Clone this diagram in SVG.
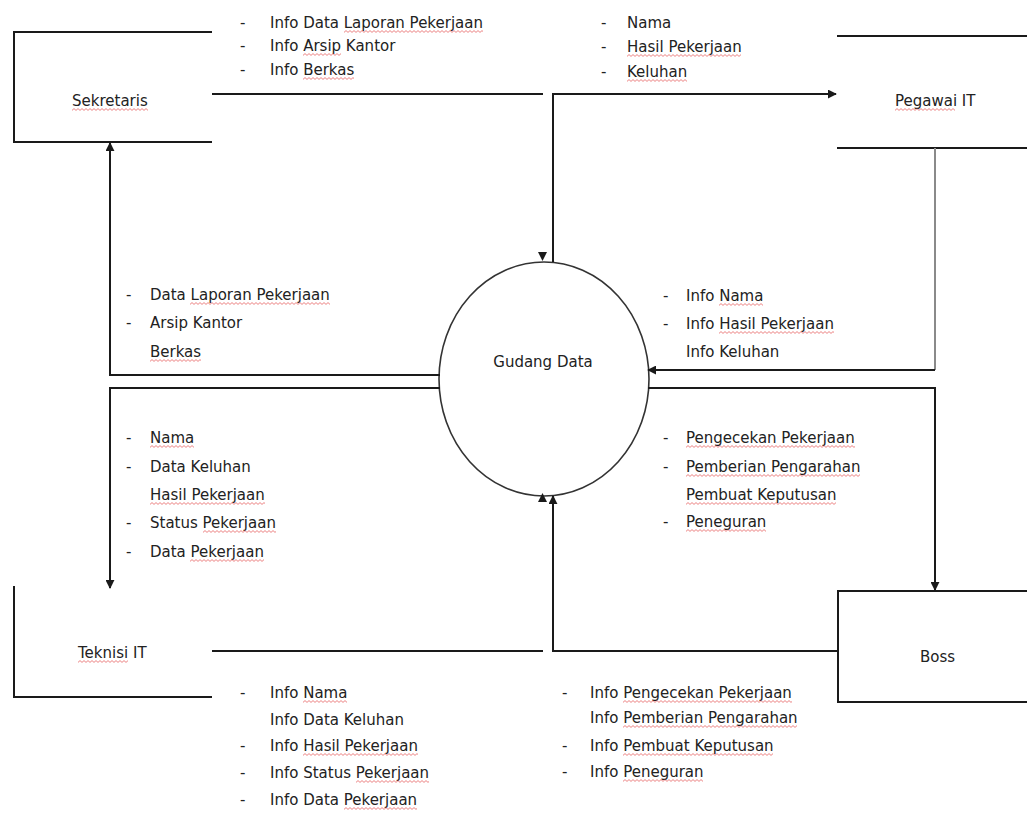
<svg xmlns="http://www.w3.org/2000/svg" width="1027" height="814" viewBox="0 0 1027 814">
  <style>
    .box { fill: none; stroke: #1a1a1a; stroke-width: 2; }
    .flow { fill: none; stroke: #1a1a1a; stroke-width: 2; }
    .gray { stroke: #8a8a8a; }
    .store { fill: #ffffff; stroke: #333333; stroke-width: 1.6; }
    .lbl { font-family: "DejaVu Sans", "Liberation Sans", sans-serif; font-size: 15px; fill: #222222; }
    .node { font-family: "DejaVu Sans", "Liberation Sans", sans-serif; font-size: 15px; fill: #222222; }
    .head { fill: #1a1a1a; }
    .sq { fill: url(#squiggle); height: 3px; }
  </style>
  <defs>
    <marker id="arrow" viewBox="0 0 10 10" refX="9" refY="5" markerWidth="9" markerHeight="9" markerUnits="userSpaceOnUse" orient="auto">
      <path d="M0,0 L10,5 L0,10 Z" class="head"/>
    </marker>
    <!-- spell-check style wavy underline -->
    <pattern id="squiggle" patternUnits="userSpaceOnUse" width="4" height="3">
      <path d="M0,2.4 L2,0.6 L4,2.4" fill="none" stroke="#e03a3a" stroke-width="0.8" stroke-opacity="0.8"/>
    </pattern>
  </defs>

  <rect width="1027" height="814" fill="#ffffff"/>

  <!-- external entities -->
  <g id="sekretaris">
    <path class="box" d="M212,32 H14 V142 H212"/>
    <text class="node" x="72" y="106">Sekretaris</text>
  </g>
  <g id="pegawai-it">
    <path class="box" d="M837,36 H1027 M837,148 H1027"/>
    <text class="node" x="895" y="106">Pegawai IT</text>
  </g>
  <g id="teknisi-it">
    <path class="box" d="M14,586 V697 H212"/>
    <text class="node" x="78" y="658">Teknisi IT</text>
  </g>
  <g id="boss">
    <path class="box" d="M1027,591 H838 V702 H1027"/>
    <text class="node" x="920" y="662">Boss</text>
  </g>

  <!-- data store -->
  <g id="gudang-data">
    <ellipse class="store" cx="544" cy="379" rx="105" ry="117"/>
    <text class="node" x="543" y="367" text-anchor="middle">Gudang Data</text>
  </g>

  <!-- data flows -->
  <g id="connectors">
    <path class="flow" d="M212,94 H543"/>
    <path class="head" d="M538,252 L547,252 L542.5,261 Z"/>
    <path class="flow" d="M553,262 V94 H836" marker-end="url(#arrow)"/>
    <path class="flow gray" d="M935,148 V370"/>
    <path class="flow" d="M935,370 H648" marker-end="url(#arrow)"/>
    <path class="flow" d="M648,388 H935 V590" marker-end="url(#arrow)"/>
    <path class="flow" d="M838,651 H553 V496" marker-end="url(#arrow)"/>
    <path class="flow" d="M212,651 H543"/>
    <path class="head" d="M538,502 L547,502 L542.5,493 Z"/>
    <path class="flow" d="M440,375 H110 V143" marker-end="url(#arrow)"/>
    <path class="flow" d="M440,388 H110 V588" marker-end="url(#arrow)"/>
  </g>

  <!-- flow labels -->
  <g id="label-sekretaris-out">
    <text class="lbl" x="240" y="28">-</text><text class="lbl" x="270" y="28">Info Data Laporan Pekerjaan</text>
    <text class="lbl" x="240" y="51">-</text><text class="lbl" x="270" y="51">Info Arsip Kantor</text>
    <text class="lbl" x="240" y="75">-</text><text class="lbl" x="270" y="75">Info Berkas</text>
  </g>
  <g id="label-pegawai-in">
    <text class="lbl" x="601" y="28">-</text><text class="lbl" x="627" y="28">Nama</text>
    <text class="lbl" x="601" y="52">-</text><text class="lbl" x="627" y="52">Hasil Pekerjaan</text>
    <text class="lbl" x="601" y="77">-</text><text class="lbl" x="627" y="77">Keluhan</text>
  </g>
  <g id="label-sekretaris-in">
    <text class="lbl" x="126" y="300">-</text><text class="lbl" x="150" y="300">Data Laporan Pekerjaan</text>
    <text class="lbl" x="126" y="328">-</text><text class="lbl" x="150" y="328">Arsip Kantor</text>
    <text class="lbl" x="150" y="357">Berkas</text>
  </g>
  <g id="label-pegawai-out">
    <text class="lbl" x="663" y="301">-</text><text class="lbl" x="686" y="301">Info Nama</text>
    <text class="lbl" x="663" y="329">-</text><text class="lbl" x="686" y="329">Info Hasil Pekerjaan</text>
    <text class="lbl" x="686" y="357">Info Keluhan</text>
  </g>
  <g id="label-teknisi-in">
    <text class="lbl" x="126" y="443">-</text><text class="lbl" x="150" y="443">Nama</text>
    <text class="lbl" x="126" y="472">-</text><text class="lbl" x="150" y="472">Data Keluhan</text>
    <text class="lbl" x="150" y="500">Hasil Pekerjaan</text>
    <text class="lbl" x="126" y="528">-</text><text class="lbl" x="150" y="528">Status Pekerjaan</text>
    <text class="lbl" x="126" y="557">-</text><text class="lbl" x="150" y="557">Data Pekerjaan</text>
  </g>
  <g id="label-boss-in">
    <text class="lbl" x="663" y="443">-</text><text class="lbl" x="686" y="443">Pengecekan Pekerjaan</text>
    <text class="lbl" x="663" y="472">-</text><text class="lbl" x="686" y="472">Pemberian Pengarahan</text>
    <text class="lbl" x="686" y="500">Pembuat Keputusan</text>
    <text class="lbl" x="663" y="527">-</text><text class="lbl" x="686" y="527">Peneguran</text>
  </g>
  <g id="label-teknisi-out">
    <text class="lbl" x="240" y="698">-</text><text class="lbl" x="270" y="698">Info Nama</text>
    <text class="lbl" x="270" y="725">Info Data Keluhan</text>
    <text class="lbl" x="240" y="751">-</text><text class="lbl" x="270" y="751">Info Hasil Pekerjaan</text>
    <text class="lbl" x="240" y="778">-</text><text class="lbl" x="270" y="778">Info Status Pekerjaan</text>
    <text class="lbl" x="240" y="805">-</text><text class="lbl" x="270" y="805">Info Data Pekerjaan</text>
  </g>
  <g id="label-boss-out">
    <text class="lbl" x="562" y="698">-</text><text class="lbl" x="590" y="698">Info Pengecekan Pekerjaan</text>
    <text class="lbl" x="590" y="723">Info Pemberian Pengarahan</text>
    <text class="lbl" x="562" y="751">-</text><text class="lbl" x="590" y="751">Info Pembuat Keputusan</text>
    <text class="lbl" x="562" y="777">-</text><text class="lbl" x="590" y="777">Info Peneguran</text>
  </g>

  <!-- wavy spell-check marks under words -->
  <g id="spelling-marks">
    <rect class="sq" transform="translate(72,108)" width="76"/>
    <rect class="sq" transform="translate(895,108)" width="60"/>
    <rect class="sq" transform="translate(78,660)" width="50"/>
    <rect class="sq" transform="translate(344,30)" width="139"/>
    <rect class="sq" transform="translate(303,53)" width="38"/>
    <rect class="sq" transform="translate(303,77)" width="51"/>
    <rect class="sq" transform="translate(627,54)" width="114"/>
    <rect class="sq" transform="translate(627,79)" width="60"/>
    <rect class="sq" transform="translate(190,302)" width="140"/>
    <rect class="sq" transform="translate(150,359)" width="51"/>
    <rect class="sq" transform="translate(719,303)" width="44"/>
    <rect class="sq" transform="translate(719,331)" width="115"/>
    <rect class="sq" transform="translate(150,445)" width="44"/>
    <rect class="sq" transform="translate(150,502)" width="115"/>
    <rect class="sq" transform="translate(203,530)" width="73"/>
    <rect class="sq" transform="translate(190,559)" width="74"/>
    <rect class="sq" transform="translate(686,445)" width="169"/>
    <rect class="sq" transform="translate(686,474)" width="174"/>
    <rect class="sq" transform="translate(686,502)" width="150"/>
    <rect class="sq" transform="translate(686,529)" width="80"/>
    <rect class="sq" transform="translate(303,700)" width="44"/>
    <rect class="sq" transform="translate(303,753)" width="115"/>
    <rect class="sq" transform="translate(356,780)" width="73"/>
    <rect class="sq" transform="translate(344,807)" width="73"/>
    <rect class="sq" transform="translate(623,700)" width="169"/>
    <rect class="sq" transform="translate(623,725)" width="174"/>
    <rect class="sq" transform="translate(623,753)" width="150"/>
    <rect class="sq" transform="translate(623,779)" width="80"/>
  </g>
</svg>
